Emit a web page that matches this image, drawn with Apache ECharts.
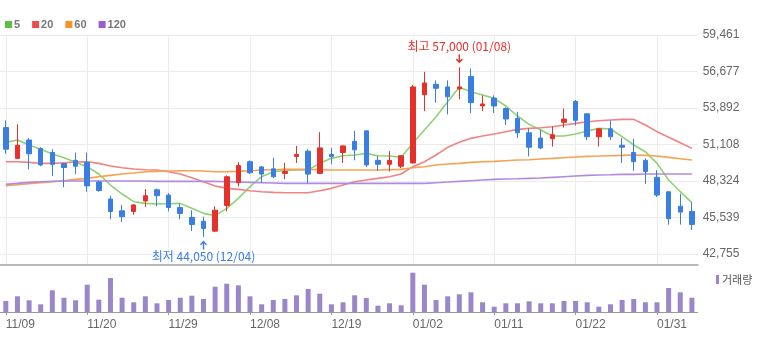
<!DOCTYPE html>
<html>
<head>
<meta charset="utf-8">
<script src="https://cdn.jsdelivr.net/npm/echarts@6/dist/echarts.min.js"></script>
<style>
  html, body { margin: 0; padding: 0; background: #fff; }
  #chart { width: 761px; height: 341px; }
</style>
</head>
<body>
<div id="chart"></div>
<script>
// Trading days
const dates = [
  '11/09','11/10','11/13','11/14','11/15','11/16','11/17','11/20','11/21','11/22',
  '11/23','11/24','11/27','11/28','11/29','11/30','12/01','12/04','12/05','12/06',
  '12/07','12/08','12/11','12/12','12/13','12/14','12/15','12/18','12/19','12/20',
  '12/21','12/22','12/26','12/27','12/28','01/02','01/03','01/04','01/05','01/08',
  '01/09','01/10','01/11','01/12','01/15','01/16','01/17','01/18','01/19','01/22',
  '01/23','01/24','01/25','01/26','01/29','01/30','01/31','02/01','02/02','02/05'
];

// Daily prices (KRW)
const open = [
  52400,50050,51450,50800,50500,49650,49900,49750,48250,46950,
  46050,46000,46800,47650,47250,46300,45550,45250,44500,46450,
  48200,49800,49400,49250,48900,50200,50600,48900,50350,50500,
  51350,52150,49900,49600,49450,49700,54900,55700,55500,55350,
  56300,54050,54650,53850,53100,52000,51600,51550,52800,54400,
  53450,51700,52300,51050,50500,49900,48600,47500,46400,46000
];
const close = [
  50750,51050,50400,49550,49600,49350,49450,47950,47600,46000,
  45600,46500,47200,47200,46300,45850,45000,44700,46100,48650,
  49500,48950,48850,48650,49050,50350,48850,50850,50200,51000,
  50700,49550,49600,49900,50250,55500,55800,55400,54750,55500,
  54300,54200,54050,53050,52000,50900,50850,51850,53050,52950,
  51700,52300,51700,50900,49800,49050,47250,45450,45950,45000
];
const low = [
  50400,50000,49200,49450,48700,47850,48850,47500,47500,45400,
  45200,45750,46350,46400,46000,45400,44500,44050,44450,46000,
  47900,48850,48200,48550,48450,49700,48150,48850,49600,49700,
  49900,49400,49100,49050,49300,49650,53650,54300,53400,54550,
  53500,53650,53500,52600,51600,50200,50750,50950,52400,52550,
  51450,50950,51450,49700,49100,48100,47100,45000,45000,44600
];
const high = [
  52950,52650,51600,50900,50750,49700,50500,50500,48350,47200,
  46500,46550,47700,47750,47400,46600,46100,45600,46400,48750,
  49750,49900,49450,50100,49700,51000,50750,52050,50850,51050,
  52150,52150,50250,50600,50300,55650,56650,56000,56000,57000,
  56900,54850,54850,53950,53600,52350,52250,52500,53850,54500,
  53500,52350,52950,51600,51550,50050,49150,47500,47350,46700
];

// Trading volume (relative units)
const volume = [
  11,15.7,11.7,7.7,21.7,14.3,11.7,27.3,12.3,34,
  14.3,9.7,15.7,8.7,12,14.3,16.3,13,25.3,28.3,
  26.7,15.7,7.7,12,13,16.7,23,18.3,7.7,9.7,
  16.7,14,6.3,8.7,6.7,39.3,27.3,12,15.7,17.7,
  19.7,9.7,5.3,8.7,8.7,10.7,8.7,8.7,11,11,
  9.7,5.3,7.7,12,13,9.7,9.7,24,19.7,14.3
];

// Moving averages (5, 20, 60, 120 days)
const ma5 = [
  51272,51450,51069,50738,50382,50102,49746,49416,48856,48017,
  47330,46746,46618,46568,46593,46618,46237,45855,45677,46237,
  47000,47890,48653,49034,49136,49161,49161,49670,50051,50255,
  50306,50433,50255,50229,50128,51196,52213,53230,54375,55468,
  55137,54883,54629,54044,53281,52645,52213,51755,51755,51908,
  52137,52340,52289,51704,51069,50560,49670,48398,47508,46669
];
const ma20 = [
  49797,49797,49746,49670,49670,49721,49772,49797,49670,49467,
  49339,49238,49187,49161,49034,48856,48577,48271,47941,47763,
  47686,47585,47508,47458,47432,47432,47432,47585,47763,48017,
  48271,48398,48526,48653,48856,49416,49797,50306,50891,51272,
  51577,51755,51908,52086,52264,52340,52391,52467,52594,52722,
  52849,52925,52976,53027,53027,52594,52086,51654,51247,50814
];
const ma60 = [
  47966,48042,48119,48195,48271,48348,48449,48526,48653,48755,
  48856,48933,49034,49060,49085,49111,49111,49085,49034,49034,
  49060,49111,49161,49187,49212,49212,49212,49187,49161,49161,
  49161,49161,49161,49187,49212,49339,49416,49543,49619,49670,
  49746,49797,49823,49873,49924,49950,50001,50051,50102,50153,
  50204,50229,50255,50280,50306,50280,50229,50128,50026,49924
];
const ma120 = [
  48068,48144,48220,48271,48297,48322,48322,48322,48322,48322,
  48322,48322,48322,48297,48297,48297,48297,48297,48297,48271,
  48246,48220,48195,48170,48144,48144,48144,48144,48144,48144,
  48144,48144,48144,48144,48144,48144,48144,48195,48246,48297,
  48348,48398,48449,48475,48500,48526,48551,48602,48653,48704,
  48755,48780,48805,48831,48831,48856,48856,48856,48856,48856
];

// Price axis tick values and visible range
const yTicks = [42755, 45539, 48324, 51108, 53892, 56677, 59461];
const yMin = 41916;
const yMax = 59461;

const maNames = ['5', '20', '60', '120'];
const maData = [ma5, ma20, ma60, ma120];
const maSwatch = ['#5cbf45', '#ee4a4a', '#f7931e', '#9d5cd4'];
const maLine = ['#8fd271', '#f08383', '#f7a24f', '#b08ae0'];

const UP = '#e5302b';
const DOWN = '#3a7ee1';
const fmt = v => Math.round(v).toLocaleString('en-US');

// Period extremes for the annotations
let hiIdx = 0, loIdx = 0;
high.forEach((v, i) => { if (v > high[hiIdx]) hiIdx = i; });
low.forEach((v, i) => { if (v < low[loIdx]) loIdx = i; });

const FONT = 'Arial, "Liberation Sans", "Noto Sans CJK KR", sans-serif';
const KFONT = '"Noto Sans CJK KR", sans-serif';
const arrowDown = 'path://M4,0 H6 V8.6 L8.6,6 L10,7.4 L5,12.4 L0,7.4 L1.4,6 L4,8.6 Z';
const arrowUp = 'path://M4,12.4 H6 V3.8 L8.6,6.4 L10,5 L5,0 L0,5 L1.4,6.4 L4,3.8 Z';

const chart = echarts.init(document.getElementById('chart'), null, { renderer: 'canvas' });

const grids = [
  { left: -2.5, right: 63.3, top: 35, height: 230 },
  { left: -2.5, right: 63.3, top: 266, height: 46 }
];

const option = {
  animation: false,
  grid: grids,
  legend: [
    {
      data: maNames,
      left: 5, top: 19, padding: 0,
      icon: 'rect', itemWidth: 7, itemHeight: 7, itemGap: 12,
      textStyle: { color: '#777', fontSize: 11, fontWeight: 'bold', fontFamily: FONT, padding: [0, 0, 0, -3] },
      selectedMode: false
    },
    {
      data: ['거래량'],
      left: 716, top: 274, padding: 0,
      icon: 'rect', itemWidth: 3, itemHeight: 9,
      textStyle: { color: '#555', fontSize: 11, fontFamily: KFONT, padding: [0, 0, 0, -2] },
      selectedMode: false
    }
  ],
  xAxis: [
    {
      type: 'category', gridIndex: 0, data: dates, boundaryGap: true,
      axisLine: { show: true, onZero: false, lineStyle: { color: '#b8b8b8', width: 2 } },
      axisTick: { show: false },
      axisLabel: { show: false },
      splitLine: { show: true, interval: 6, alignWithLabel: true, lineStyle: { color: '#ececec', width: 1 } }
    },
    {
      type: 'category', gridIndex: 1, data: dates, boundaryGap: true,
      axisLine: { show: true, onZero: false, lineStyle: { color: '#999', width: 1 } },
      axisTick: { show: true, interval: 6, alignWithLabel: true, length: 3, lineStyle: { color: '#999' } },
      axisLabel: { show: true, interval: 6, align: 'left', color: '#666', fontSize: 12, margin: 7, fontFamily: FONT },
      splitLine: { show: false }
    }
  ],
  yAxis: [
    {
      type: 'value', gridIndex: 0, position: 'right', min: yMin, max: yMax, scale: true,
      axisLine: { show: false },
      axisTick: { show: false, customValues: yTicks },
      axisLabel: { customValues: yTicks, formatter: fmt, color: '#666', fontSize: 12, margin: 5, fontFamily: FONT },
      splitLine: { show: true, lineStyle: { color: '#ececec', width: 1 } }
    },
    {
      type: 'value', gridIndex: 1, min: 0, max: 46, show: false,
      splitLine: { show: false }
    }
  ],
  series: [
    ...maNames.map((name, k) => ({
      type: 'line', name, xAxisIndex: 0, yAxisIndex: 0,
      data: maData[k], symbol: 'none', smooth: false, z: 3,
      itemStyle: { color: maSwatch[k] },
      lineStyle: { color: maLine[k], width: 1.6 }
    })),
    {
      type: 'candlestick', name: 'price', xAxisIndex: 0, yAxisIndex: 0, z: 4,
      data: dates.map((d, i) => [open[i], close[i], low[i], high[i]]),
      barWidth: 5,
      itemStyle: { color: UP, color0: DOWN, borderColor: UP, borderColor0: DOWN, borderWidth: 1 },
      markPoint: {
        animation: false,
        data: [
          {
            coord: [dates[hiIdx], high[hiIdx]],
            symbol: arrowDown, symbolSize: [7, 9], symbolOffset: [0, -8.5],
            itemStyle: { color: UP },
            label: {
              show: true, position: 'top', distance: 2,
              formatter: '최고 ' + fmt(high[hiIdx]) + ' (' + dates[hiIdx] + ')',
              color: UP, fontSize: 12, fontFamily: KFONT
            }
          },
          {
            coord: [dates[loIdx], low[loIdx]],
            symbol: arrowUp, symbolSize: [7, 9], symbolOffset: [0, 8],
            itemStyle: { color: DOWN },
            label: {
              show: true, position: 'bottom', distance: 1,
              formatter: '최저 ' + fmt(low[loIdx]) + ' (' + dates[loIdx] + ')',
              color: DOWN, fontSize: 12, fontFamily: KFONT
            }
          }
        ]
      }
    },
    {
      type: 'bar', name: '거래량', xAxisIndex: 1, yAxisIndex: 1,
      data: volume, barWidth: 5,
      itemStyle: { color: '#9b86c9' }
    }
  ]
};

chart.setOption(option);
</script>
</body>
</html>
